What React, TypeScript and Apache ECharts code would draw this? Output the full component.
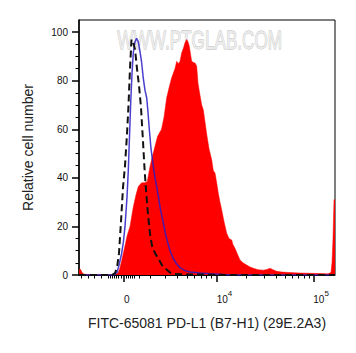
import React, { useEffect, useRef } from "react";
import * as echarts from "echarts";

// x values are positions on the biexponential display scale (0..256 channels)
const stainedCells: [number, number][] = [
  [0, 2], [1, 2.5], [2, 2], [3, 1], [5, 0.3], [11, 0.2], [21, 0.1], [33, 0.1], [37, 0.3],
  [39.3, 1], [41, 3], [42.7, 6], [44.3, 9], [46, 12], [48, 16], [51, 20], [54.3, 28],
  [57, 33], [59.3, 36.4], [62.7, 38], [66, 38], [68.3, 38.5], [71, 44.7], [73.5, 49],
  [76, 53], [78.5, 57], [82.5, 60], [85, 65], [87.7, 73], [90, 77], [92.5, 81], [96, 85],
  [97.7, 88], [99.3, 87], [101, 88], [102.7, 91.5], [104.5, 93.5], [106, 95.6],
  [107.7, 97], [109, 96], [110.3, 94.2], [111.5, 91], [112.7, 88], [114.5, 87.5],
  [116, 87.3], [117.7, 86], [119, 79], [121, 74], [122.7, 70], [124.3, 68], [126, 63],
  [127.7, 58], [130, 52], [132.7, 47.5], [134.3, 43], [136, 42], [137.7, 38],
  [139.3, 33.7], [141, 30], [142.7, 26.8], [145, 22], [147.7, 17.2], [150, 15],
  [152.7, 14.4], [154, 12.5], [156, 11], [158.5, 8.5], [161, 6.2], [164, 5],
  [167.7, 4.1], [171, 3.3], [174.3, 2.8], [179, 2.2], [184.3, 2], [188, 2.3], [191, 2.8],
  [194, 2.2], [197.7, 1.5], [203, 1.2], [211, 1], [221, 0.8], [231, 0.7], [241, 0.6],
  [249, 0.5], [252, 1], [253, 5], [254, 15], [255, 31], [256, 31],
];

const controlBlue: [number, number][] = [
  [0, 0], [35, 0], [38, 1], [40, 4], [42.7, 9], [44.5, 14], [46, 20], [48, 32],
  [49.3, 43], [50.5, 57], [51.7, 71], [53, 83], [54.3, 91.6], [56, 96], [57.5, 97.5],
  [59.3, 96], [61, 92], [62.5, 88], [64.3, 81], [66, 76], [67.7, 73], [69, 67],
  [70.3, 60], [72, 52], [74.3, 44.7], [76, 40], [77.7, 36.4], [79.5, 32], [81, 28],
  [83, 24], [85, 20], [87, 16], [89, 13], [91, 10], [94, 7], [97.7, 4.5], [101, 3],
  [106, 1.8], [111, 1.2], [121, 0.8], [131, 0.5], [139, 0.3], [151, 0], [256, 0],
];

const controlDashed: [number, number][] = [
  [0, 0], [33, 0], [36, 0.8], [38, 3], [40, 9], [42, 22], [44, 36], [46, 45], [48, 58],
  [49.5, 70], [51, 85], [52.5, 97], [54, 96], [56, 93], [58, 85], [60, 78], [62, 69],
  [64, 55], [65.5, 44], [67, 35], [69, 25], [71, 17], [73, 12], [76, 9], [79, 7],
  [83, 4], [87, 2.5], [91, 1], [96, 0.4], [106, 0.2], [121, 0.2], [136, 0.1], [150, 0],
  [256, 0],
];

const xMajorTicks = [45, 137.7, 234.3];
const xMajorLabels = ["0", "10^4", "10^5"];
const xMinorTicks = [
  2, 9, 15.5, 22, 29, 31, 33, 35, 37, 39, 42, 47, 49, 51, 53, 55, 60,
  71, 86.6, 98.5, 107.8, 115.5, 122, 127.6, 132.5,
  167, 185, 197, 205.8, 213.2, 219.6, 225.5, 230.5,
];
const yMajorTicks = [0, 20, 40, 60, 80, 100];
const yMinorTicks = [5, 10, 15, 25, 30, 35, 45, 50, 55, 65, 70, 75, 85, 90, 95];

const FONT = "'Liberation Sans', Arial, Helvetica, sans-serif";

export default function App() {
  const ref = useRef<HTMLDivElement>(null);
  useEffect(() => {
    if (!ref.current) return;
    const chart = echarts.init(ref.current, undefined, { renderer: "svg" });
    const labelMap: Record<string, string> = {};
    xMajorTicks.forEach((v, i) => (labelMap[String(v)] = xMajorLabels[i]));
    chart.setOption({
      animation: false,
      backgroundColor: "#ffffff",
      grid: {
        left: 79, top: 20, right: 21, bottom: 78,
        show: true, borderColor: "#000", borderWidth: 1, backgroundColor: "transparent",
      },
      graphic: [
        {
          type: "text",
          z: 1,
          left: 117,
          top: 27,
          scaleX: 0.66,
          style: {
            text: "WWW.PTGLAB.COM",
            font: `26px ${FONT}`,
            fill: "#ebebeb",
            stroke: "#b8b8b8",
            lineWidth: 0.8,
          },
        },
      ],
      xAxis: [
        {
          type: "value",
          min: 0,
          max: 256,
          position: "bottom",
          name: "FITC-65081 PD-L1 (B7-H1) (29E.2A3)",
          nameLocation: "middle",
          nameGap: 41,
          nameTextStyle: { fontSize: 14, color: "#222", fontFamily: FONT },
          axisLine: { show: true, lineStyle: { color: "#000", width: 1 } },
          axisTick: { show: true, length: 7, customValues: xMajorTicks, lineStyle: { color: "#000", width: 1.5 } },
          axisLabel: {
            show: true,
            customValues: xMajorTicks,
            align: "left",
            margin: 9,
            formatter: (v: number) => {
              const key = xMajorTicks.find((t) => Math.abs(t - v) < 0.01);
              const s = key !== undefined ? labelMap[String(key)] : "";
              if (s.includes("^")) {
                const [b, e] = s.split("^");
                return `{b|${b}}{s|${e}}`;
              }
              return `{b|${s}}`;
            },
            rich: {
              b: { fontSize: 10, color: "#111", fontFamily: FONT, lineHeight: 20, verticalAlign: "bottom" },
              s: { fontSize: 8, color: "#111", fontFamily: FONT, lineHeight: 20, verticalAlign: "bottom", padding: [0, 0, 7, 0] },
            },
          },
          splitLine: { show: false },
        },
        {
          type: "value",
          min: 0,
          max: 256,
          position: "bottom",
          axisLine: { show: false },
          axisTick: { show: true, length: 3.5, customValues: xMinorTicks, lineStyle: { color: "#000", width: 1 } },
          axisLabel: { show: false },
          splitLine: { show: false },
        },
      ],
      yAxis: [
        {
          type: "value",
          min: 0,
          max: 105,
          name: "Relative cell number",
          nameLocation: "middle",
          nameGap: 44,
          nameTextStyle: { fontSize: 14, color: "#222", fontFamily: FONT },
          axisLine: { show: true, lineStyle: { color: "#000", width: 1.5 } },
          axisTick: { show: true, length: 7, customValues: yMajorTicks, lineStyle: { color: "#000", width: 1.5 } },
          axisLabel: { show: true, customValues: yMajorTicks, margin: 11, fontSize: 10, color: "#111", fontFamily: FONT },
          splitLine: { show: false },
        },
        {
          type: "value",
          min: 0,
          max: 105,
          position: "left",
          axisLine: { show: false },
          axisTick: { show: true, length: 3.5, customValues: yMinorTicks, lineStyle: { color: "#000", width: 1 } },
          axisLabel: { show: false },
          splitLine: { show: false },
        },
      ],
      series: [
        {
          type: "line",
          data: stainedCells,
          symbol: "none",
          z: 2,
          lineStyle: { color: "#ff0000", width: 0.5 },
          areaStyle: { color: "#ff0000", opacity: 1 },
        },
        {
          type: "line",
          data: controlBlue,
          symbol: "none",
          z: 3,
          lineStyle: { color: "#2a1cc4", width: 1.5, opacity: 0.85 },
        },
        {
          type: "line",
          data: controlDashed,
          symbol: "none",
          z: 4,
          lineStyle: { color: "#111", width: 2, type: [7, 4] },
        },
      ],
    });
    return () => chart.dispose();
  }, []);
  return <div ref={ref} style={{ width: 356, height: 353, position: "absolute", left: 0, top: 0 }} />;
}
